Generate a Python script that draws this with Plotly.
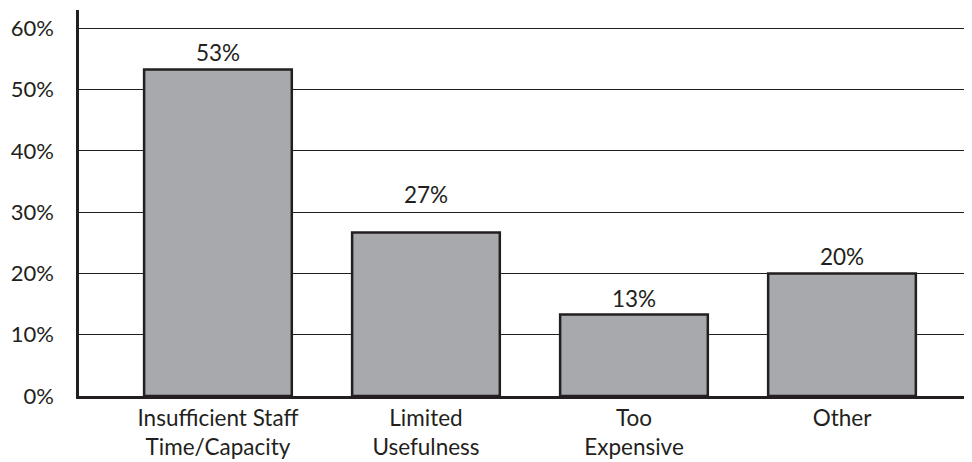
import plotly.graph_objects as go

categories = ["Insufficient Staff<br>Time/Capacity", "Limited<br>Usefulness", "Too<br>Expensive", "Other"]
values = [53.3, 26.7, 13.3, 20.0]
value_labels = ["53%", "27%", "13%", "20%"]
y_tick_vals = [0, 10, 20, 30, 40, 50, 60]
y_tick_text = ["0%", "10%", "20%", "30%", "40%", "50%", "60%"]

label_extra_shift = [0, 21, 0, 0]

ink = "#231f20"
FONT = "Lato"
FS = 22.5

x = list(range(len(categories)))

fig = go.Figure()
fig.add_trace(go.Bar(
    x=x, y=values, width=0.71,
    marker=dict(color="#a7a9ac", line=dict(color=ink, width=2.5)),
    hoverinfo="skip",
))

for xi, v, t, s in zip(x, values, value_labels, label_extra_shift):
    fig.add_annotation(x=xi, y=v, text=t, showarrow=False, yanchor="bottom",
                       yshift=1 + s, font=dict(family=FONT, size=FS, color=ink))

# page body has an 8px default margin; compensate so the plot lands in place
fig.update_layout(
    width=964, height=454,
    margin=dict(l=71, r=0, t=2, b=66, autoexpand=False),
    paper_bgcolor="white", plot_bgcolor="white",
    showlegend=False,
    font=dict(family=FONT, size=FS, color=ink),
)
fig.update_xaxes(
    range=[-0.668, 3.625], tickvals=x, ticktext=categories,
    showgrid=False, zeroline=False,
    showline=True, linecolor=ink, linewidth=2.5,
    ticks="", tickfont=dict(family=FONT, size=FS, color=ink),
)
fig.update_yaxes(
    range=[0, 63], tickvals=y_tick_vals, ticktext=y_tick_text,
    showgrid=True, gridcolor=ink, gridwidth=1.2, zeroline=False,
    showline=True, linecolor=ink, linewidth=2.5,
    ticks="", ticklabelstandoff=18,
    tickfont=dict(family=FONT, size=22, color=ink),
)

fig.write_html("out.html")
